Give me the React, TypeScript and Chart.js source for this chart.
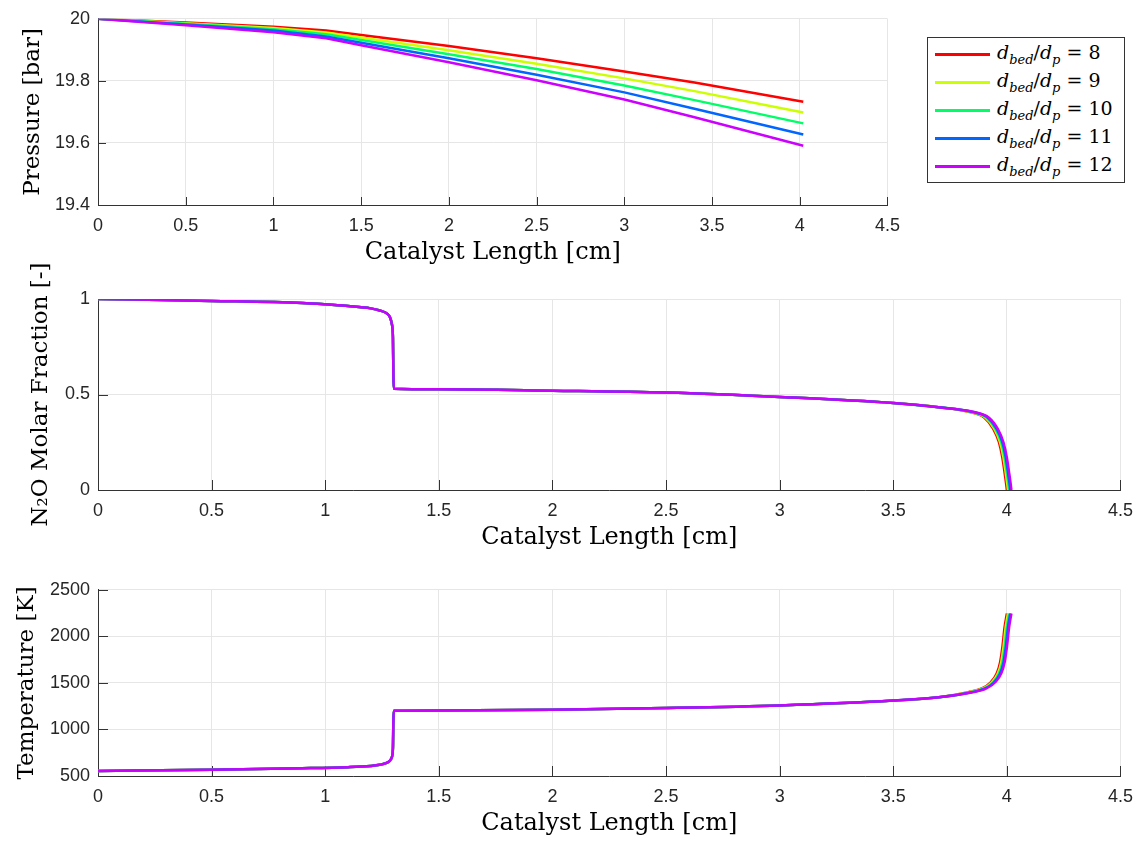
import React, { useEffect, useRef } from "react";
import { Chart, registerables } from "chart.js";

Chart.register(...registerables);

// ---------- data ----------
const ratioLabels = ["8", "9", "10", "11", "12"];
const seriesColors = ["#ff0000", "#ccff00", "#00ff66", "#0066ff", "#cc00ff"];

const xTitle = "Catalyst Length [cm]";
const pressureTitle = "Pressure [bar]";
const n2oTitle = "N\u2082O Molar Fraction [-]";
const tempTitle = "Temperature [K]";

// Pressure
const pressureLength = [0, 0.5, 1, 1.3, 1.5, 2, 2.5, 3, 3.4, 4.02];
const pressure8 = [20, 19.988, 19.974, 19.962, 19.948, 19.912, 19.873, 19.83, 19.795, 19.733];
const pressure9 = [20, 19.986, 19.97, 19.956, 19.94, 19.899, 19.855, 19.808, 19.767, 19.698];
const pressure10 = [20, 19.984, 19.966, 19.95, 19.932, 19.886, 19.838, 19.785, 19.738, 19.663];
const pressure11 = [20, 19.982, 19.962, 19.943, 19.923, 19.873, 19.82, 19.763, 19.71, 19.627];
const pressure12 = [20, 19.979, 19.957, 19.937, 19.915, 19.86, 19.802, 19.74, 19.683, 19.591];
const pressureSeries = [pressure8, pressure9, pressure10, pressure11, pressure12];

// N2O molar fraction (shared profile; tail shifted per series)
const n2oLength = [0, 0.5, 0.9, 1.0, 1.1, 1.2, 1.24, 1.27, 1.285, 1.293, 1.298, 1.3, 1.302, 1.5, 2, 2.5, 3, 3.5, 3.7, 3.85, 3.92, 3.96, 3.985, 4.0, 4.01, 4.017, 4.02];
const n2oFraction = [1, 0.99, 0.979, 0.972, 0.963, 0.951, 0.94, 0.925, 0.905, 0.87, 0.8, 0.6, 0.53, 0.527, 0.52, 0.51, 0.487, 0.455, 0.433, 0.41, 0.38, 0.32, 0.25, 0.17, 0.09, 0.03, 0];

// Temperature
const tempLength = [0, 0.5, 0.9, 1.1, 1.2, 1.24, 1.27, 1.285, 1.293, 1.298, 1.3, 1.302, 1.5, 2, 2.5, 3, 3.5, 3.7, 3.85, 3.91, 3.95, 3.975, 3.99, 4.0, 4.01, 4.02];
const temperature = [555, 568, 583, 595, 608, 620, 640, 665, 700, 800, 1100, 1200, 1203, 1212, 1230, 1258, 1310, 1346, 1400, 1440, 1510, 1600, 1720, 1880, 2100, 2245];

// horizontal offset of each series near the end of the bed
const tailStart = 3.8;
const tailOffsets = [-0.02, -0.015, -0.01, -0.005, 0];

// ---------- helpers ----------
const inwardTicks = {
  id: "inwardTicks",
  beforeDatasetsDraw(chart: any, _args: any, opts: any) {
    const { ctx, chartArea: a, scales } = chart;
    const len = opts.length ?? 8;
    ctx.save();
    ctx.strokeStyle = "#333333";
    ctx.lineWidth = 1;
    ctx.beginPath();
    scales.x.ticks.forEach((t: any) => {
      const px = Math.round(scales.x.getPixelForValue(t.value)) + 0.5;
      ctx.moveTo(px, a.bottom);
      ctx.lineTo(px, a.bottom - len);
    });
    scales.y.ticks.forEach((t: any) => {
      const py = Math.round(scales.y.getPixelForValue(t.value)) + 0.5;
      ctx.moveTo(a.left, py);
      ctx.lineTo(a.left + len, py);
    });
    ctx.stroke();
    ctx.restore();
  },
};

const fmt = (v: any) => String(Math.round(Number(v) * 1000) / 1000);

type ChartProps = {
  left: number;
  top: number;
  width: number;
  height: number;
  padRight: number;
  padTop: number;
  datasets: any[];
  yMin: number;
  yMax: number;
  yStep: number;
  yTitle: string;
  yTitlePad: number;
  tickLen: number;
};

function LineChart(p: ChartProps) {
  const ref = useRef<HTMLCanvasElement>(null);
  useEffect(() => {
    if (!ref.current) return;
    const tickFont = { family: "'Liberation Sans', Arial, sans-serif", size: 18 };
    const xTitleFont = { family: "'DejaVu Serif', serif", size: 24 };
    const yTitleFont = { family: "'DejaVu Serif', serif", size: 23 };
    const chart = new Chart(ref.current, {
      type: "line",
      data: { datasets: p.datasets },
      plugins: [inwardTicks],
      options: {
        animation: false,
        responsive: false,
        maintainAspectRatio: false,
        layout: { padding: { left: 0, right: p.padRight, top: p.padTop, bottom: 0 } },
        plugins: {
          legend: { display: false },
          tooltip: { enabled: false },
          inwardTicks: { length: p.tickLen },
        } as any,
        elements: { point: { radius: 0 } },
        scales: {
          x: {
            type: "linear",
            min: 0,
            max: 4.5,
            ticks: { stepSize: 0.5, font: tickFont, color: "#262626", padding: 10, maxRotation: 0, callback: fmt },
            grid: { color: "#e6e6e6", drawTicks: false, lineWidth: 1 },
            border: { display: true, color: "#333333", width: 1 },
            title: { display: true, text: xTitle, font: xTitleFont, color: "#000", padding: { top: 0, bottom: 2.6 } },
            afterFit: (s: any) => { s.height = 65; },
          },
          y: {
            type: "linear",
            min: p.yMin,
            max: p.yMax,
            ticks: { stepSize: p.yStep, font: tickFont, color: "#262626", padding: 8, callback: fmt },
            grid: { color: "#e6e6e6", drawTicks: false, lineWidth: 1 },
            border: { display: true, color: "#333333", width: 1 },
            title: { display: true, text: p.yTitle, font: yTitleFont, color: "#000", padding: { top: p.yTitlePad, bottom: 0 } },
            afterFit: (s: any) => { s.width = 98; },
          },
        },
      } as any,
    });
    return () => chart.destroy();
  }, []);
  return (
    <div style={{ position: "absolute", left: p.left, top: p.top, width: p.width, height: p.height }}>
      <canvas ref={ref} width={p.width} height={p.height} style={{ width: p.width, height: p.height }} />
    </div>
  );
}

function makeDataset(i: number, xs: number[], ys: number[], shiftTail: boolean, smooth: boolean) {
  return {
    label: "d_bed/d_p = " + ratioLabels[i],
    data: xs.map((x, k) => ({ x: shiftTail && x >= tailStart ? x + tailOffsets[i] : x, y: ys[k] })),
    borderColor: seriesColors[i],
    backgroundColor: seriesColors[i],
    borderWidth: 2.5,
    pointRadius: 0,
    fill: false,
    order: ratioLabels.length - 1 - i,
    tension: 0,
    cubicInterpolationMode: smooth ? "monotone" : "default",
  };
}

function Legend() {
  return (
    <div
      style={{
        position: "absolute",
        left: 927,
        top: 37,
        width: 198,
        height: 146,
        boxSizing: "border-box",
        border: "1px solid #333",
        background: "#fff",
        fontFamily: "'DejaVu Serif', serif",
        fontSize: 19,
        color: "#000",
      }}
    >
      {ratioLabels.map((lab, i) => (
        <div key={lab} style={{ position: "absolute", left: 0, top: 16 + i * 28, width: "100%", height: 0 }}>
          <div style={{ position: "absolute", left: 7, top: -1.5, width: 55, height: 3, background: seriesColors[i] }} />
          <div style={{ position: "absolute", left: 69, top: -14, whiteSpace: "nowrap", lineHeight: "24px" }}>
            <i>d</i>
            <sub style={{ fontSize: 13, fontStyle: "italic" }}>bed</sub>/<i>d</i>
            <sub style={{ fontSize: 13, fontStyle: "italic" }}>p</sub>
            {" = " + lab}
          </div>
        </div>
      ))}
    </div>
  );
}

export default function App() {
  const pressureSets = pressureSeries.map((ys, i) => makeDataset(i, pressureLength, ys, false, false));
  const n2oSets = ratioLabels.map((_, i) => makeDataset(i, n2oLength, n2oFraction, true, true));
  const tempSets = ratioLabels.map((_, i) => makeDataset(i, tempLength, temperature, true, true));
  return (
    <div style={{ position: "absolute", left: 0, top: 0, width: 1143, height: 842, background: "#fff" }}>
      <LineChart left={0} top={0} width={910} height={270} padRight={16} padTop={15}
        datasets={pressureSets} yMin={19.4} yMax={20} yStep={0.2} yTitle={pressureTitle} yTitlePad={19} tickLen={8} />
      <LineChart left={0} top={255} width={1143} height={300} padRight={19} padTop={44}
        datasets={n2oSets} yMin={0} yMax={1} yStep={0.5} yTitle={n2oTitle} yTitlePad={27} tickLen={10} />
      <LineChart left={0} top={571} width={1143} height={270} padRight={19} padTop={14}
        datasets={tempSets} yMin={500} yMax={2500} yStep={500} yTitle={tempTitle} yTitlePad={13} tickLen={10} />
      <Legend />
    </div>
  );
}
